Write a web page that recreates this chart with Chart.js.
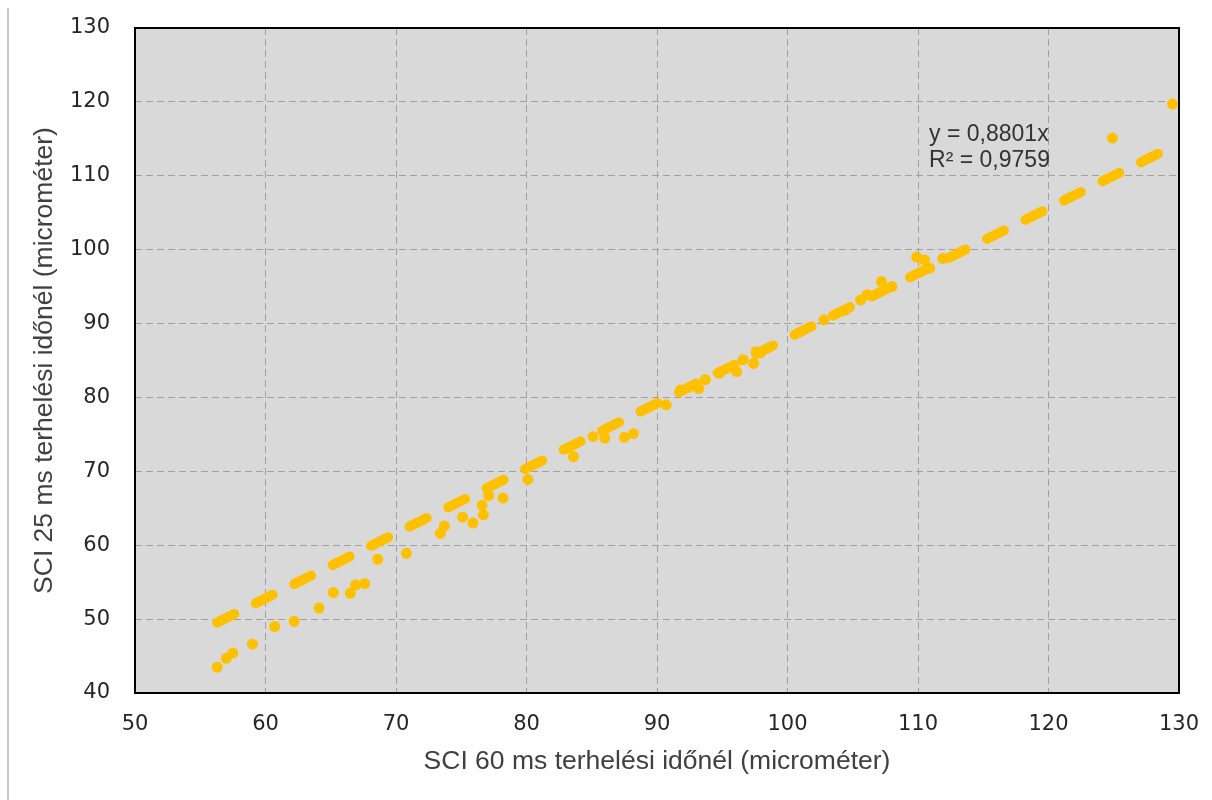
<!DOCTYPE html>
<html>
<head>
<meta charset="utf-8">
<style>
  html, body { margin: 0; padding: 0; background: #fff; }
  canvas { display: block; }
</style>
<script src="https://cdn.jsdelivr.net/npm/chart.js"></script>
</head>
<body>
<canvas id="sciChart" width="1212" height="800"></canvas>
<script>
// SCI at 60 ms load time (x) against SCI at 25 ms load time (y), micrometres
var sci60 = [56.3, 57.0, 57.5, 59.0, 60.7, 62.2, 64.1, 65.2, 66.5, 66.9, 67.6, 68.6, 70.8,
             73.4, 73.7, 75.1, 75.9, 76.7, 76.6, 77.1, 78.2, 80.1, 83.6, 85.1, 86.0, 87.5,
             88.2, 90.7, 91.8, 93.2, 93.7, 94.8, 96.1, 96.6, 97.4, 97.6, 97.9, 102.8, 104.4,
             105.6, 106.1, 107.2, 108.0, 109.9, 110.5, 110.9, 111.9, 124.9, 129.5];
var sci25 = [43.5, 44.7, 45.4, 46.6, 49.0, 49.7, 51.5, 53.6, 53.5, 54.6, 54.8, 58.1, 58.9,
             61.6, 62.6, 63.8, 63.0, 64.1, 65.4, 66.7, 66.4, 68.9, 72.0, 74.7, 74.5, 74.6,
             75.1, 79.0, 81.0, 81.2, 82.4, 83.3, 83.5, 85.1, 84.6, 86.2, 86.0, 90.5, 91.8,
             93.2, 93.9, 95.7, 95.0, 99.0, 98.6, 97.5, 98.8, 115.1, 119.7];

// linear trendline through the origin
var slope = 0.8801;
var rSquared = '0,9759';
var xTicks = [50, 60, 70, 80, 90, 100, 110, 120, 130];
var yTicks = [40, 50, 60, 70, 80, 90, 100, 110, 120, 130];

var points = sci60.map(function (x, i) { return { x: x, y: sci25[i] }; });
var xLo = Math.min.apply(null, sci60);
var xHi = Math.max.apply(null, sci60);
var trend = [{ x: xLo, y: slope * xLo }, { x: xHi, y: slope * xHi }];

var gold = '#FFC000';

var framePlugin = {
  id: 'frame',
  beforeDraw: function (chart) {
    var a = chart.chartArea, ctx = chart.ctx;
    ctx.save();
    ctx.fillStyle = '#d9d9d9';
    ctx.fillRect(a.left, a.top, a.right - a.left, a.bottom - a.top);
    ctx.restore();
  },
  afterDraw: function (chart) {
    var a = chart.chartArea, ctx = chart.ctx;
    ctx.save();
    ctx.strokeStyle = '#000';
    ctx.lineWidth = 2;
    ctx.strokeRect(a.left, a.top, a.right - a.left, a.bottom - a.top);
    // thin rule at the left edge of the page
    ctx.strokeStyle = '#c8c8c8';
    ctx.beginPath();
    ctx.moveTo(8, 8);
    ctx.lineTo(8, 800);
    ctx.stroke();
    // trendline equation
    var xs = chart.scales.x, ys = chart.scales.y;
    ctx.fillStyle = '#333';
    ctx.font = '23px "Liberation Sans", Arial, sans-serif';
    ctx.textBaseline = 'middle';
    ctx.textAlign = 'left';
    var lx = xs.getPixelForValue(110.85);
    ctx.fillText('y = ' + slope.toFixed(4).replace('.', ',') + 'x', lx, ys.getPixelForValue(115.5));
    ctx.fillText('R\u00B2 = ' + rSquared, lx, ys.getPixelForValue(112.1));
    ctx.restore();
  }
};

var tickFont = { family: '"DejaVu Sans", Verdana, sans-serif', size: 21 };
var titleFont = { family: '"Liberation Sans", Arial, sans-serif', size: 26.5 };

new Chart(document.getElementById('sciChart').getContext('2d'), {
  type: 'scatter',
  data: {
    datasets: [{
      type: 'line',
      label: 'trend',
      data: trend,
      borderColor: gold,
      borderWidth: 10,
      borderDash: [19, 24],
      borderCapStyle: 'round',
      pointRadius: 0,
      fill: false,
      order: 0
    }, {
      label: 'SCI',
      data: points,
      backgroundColor: gold,
      borderColor: gold,
      pointRadius: 5.5,
      pointBorderWidth: 0,
      order: 1
    }]
  },
  options: {
    responsive: false,
    animation: false,
    layout: { padding: { left: 0, top: 28, right: 33, bottom: 0 } },
    plugins: { legend: { display: false }, tooltip: { enabled: false } },
    scales: {
      x: {
        type: 'linear',
        min: 50, max: 130,
        afterBuildTicks: function (s) { s.ticks = xTicks.map(function (v) { return { value: v }; }); },
        afterFit: function (s) {
          s.height = 107;
          s.paddingLeft = 0;
          s.paddingRight = 0;
        },
        grid: { color: '#a0a0a0', lineWidth: 1, drawTicks: false },
        border: { display: false, dash: [7, 4] },
        ticks: { font: tickFont, color: '#262626', padding: 19, maxRotation: 0 },
        title: { display: true, text: 'SCI 60 ms terhelési időnél (microméter)', font: titleFont, color: '#404040', padding: { top: 0, bottom: 22 } }
      },
      y: {
        type: 'linear',
        min: 40, max: 130,
        afterBuildTicks: function (s) { s.ticks = yTicks.map(function (v) { return { value: v }; }); },
        afterFit: function (s) {
          s.width = 135;
          s.paddingTop = 0;
          s.paddingBottom = 0;
        },
        grid: { color: '#a0a0a0', lineWidth: 1, drawTicks: false },
        border: { display: false, dash: [7, 4] },
        ticks: { font: tickFont, color: '#262626', padding: 25 },
        title: { display: true, text: 'SCI 25 ms terhelési időnél (microméter)', font: titleFont, color: '#404040', padding: { top: 29, bottom: 0 } }
      }
    }
  },
  plugins: [framePlugin]
});
</script>
</body>
</html>
